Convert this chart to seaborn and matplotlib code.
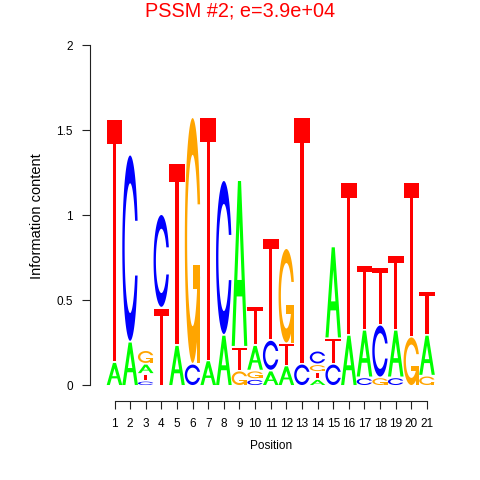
import numpy as np
import matplotlib
matplotlib.use("Agg")
import matplotlib.pyplot as plt
from matplotlib.patches import Polygon
import seaborn as sns

positions = list(range(1, 22))
height_A = [0.13, 0.25, 0.05, 0.00, 0.23, 0.00, 0.14, 0.29, 0.97, 0.14, 0.08,
            0.11, 0.00, 0.03, 0.53, 0.29, 0.27, 0.00, 0.27, 0.00, 0.23]
height_C = [0.00, 1.09, 0.02, 0.54, 0.00, 0.12, 0.00, 0.90, 0.00, 0.03, 0.17,
            0.00, 0.12, 0.07, 0.12, 0.00, 0.04, 0.30, 0.04, 0.00, 0.00]
height_G = [0.00, 0.00, 0.07, 0.00, 0.00, 1.44, 0.00, 0.00, 0.08, 0.04, 0.00,
            0.55, 0.00, 0.035, 0.00, 0.00, 0.00, 0.04, 0.00, 0.28, 0.05]
height_T = [1.42, 0.00, 0.03, 0.45, 1.06, 0.00, 1.42, 0.00, 0.13, 0.22, 0.59,
            0.12, 1.44, 0.032, 0.14, 0.89, 0.37, 0.33, 0.43, 0.90, 0.25]
y_ticks = [0, 0.5, 1, 1.5, 2]
y_tick_labels = ["0", "0.5", "1", "1.5", "2"]
title = "PSSM #2; e=3.9e+04"

base_colors = {"A": "#00FF00", "C": "#0000FF", "G": "#FFA500", "T": "#FF0000"}


def ring_shape():
    # open ring used for C and G (unit box)
    a1 = np.linspace(0.3 + np.pi / 2, np.pi, 100)
    a2 = np.linspace(np.pi, 1.5 * np.pi, 100)
    xl1, yl1 = 0.5 + 0.5 * np.sin(a1), 0.5 + 0.5 * np.cos(a1)
    xl2, yl2 = 0.5 + 0.5 * np.sin(a2), 0.5 + 0.5 * np.cos(a2)
    xl, yl = np.r_[xl1, xl2], np.r_[yl1, yl2]
    x = np.r_[xl, xl[::-1]]
    y = np.r_[yl, 1 - yl[::-1]]
    xi1, yi1 = 0.5 + 0.35 * np.sin(a1), 0.5 + 0.35 * np.cos(a1)
    keep = yi1 <= yl1.max()
    xi1, yi1 = xi1[keep], yi1[keep]
    yi1[0] = yl1.max()
    xi2, yi2 = 0.5 + 0.35 * np.sin(a2), 0.5 + 0.35 * np.cos(a2)
    xi, yi = np.r_[xi1, xi2], np.r_[yi1, yi2]
    x1 = np.r_[xi, xi[::-1]]
    y1 = np.r_[yi, 1 - yi[::-1]]
    x = np.r_[x, x1[::-1]]
    y = np.r_[y, y1[::-1]]
    return np.c_[x, y], xl1.max()


def letter_shapes(base):
    col = base_colors[base]
    if base == "A":
        outer = np.array([[0, 0], [4, 10], [6, 10], [10, 0], [8, 0], [6.8, 3],
                          [3.2, 3], [2, 0], [0, 0]]) * 0.1
        hole = np.array([[3.6, 4], [5, 7.5], [6.4, 4], [3.6, 4]]) * 0.1
        return [(outer, col), (hole, "white")]
    if base == "T":
        xy = np.array([[0, 10], [10, 10], [10, 9], [6, 9], [6, 0], [4, 0],
                       [4, 9], [0, 9]]) * 0.1
        return [(xy, col)]
    ring, r1 = ring_shape()
    if base == "C":
        return [(ring, col)]
    h1 = 0.4
    bar = np.array([[r1, h1], [0.5, h1], [0.5, h1 - 0.1], [r1 - 0.2, h1 - 0.1],
                    [r1 - 0.2, 0], [r1, 0], [r1, h1]])
    return [(ring, col), (bar, col)]


sns.set_theme(style="ticks")
plt.rcParams["font.family"] = ["Liberation Sans", "DejaVu Sans"]

fig = plt.figure(figsize=(4.8, 4.8), dpi=100)
ax = fig.add_axes([90 / 480, 79 / 480, 361.5 / 480, 369.6 / 480])

heights = {"A": height_A, "C": height_C, "G": height_G, "T": height_T}
for i, pos in enumerate(positions):
    col_h = sorted(((heights[b][i], b) for b in "ACGT"), key=lambda t: t[0])
    y0 = 0.0
    for ht, b in col_h:
        if ht <= 0:
            continue
        for shape, color in letter_shapes(b):
            xy = np.c_[pos - 0.5 + shape[:, 0], y0 + ht * shape[:, 1]]
            ax.add_patch(Polygon(xy, closed=True, facecolor=color,
                                 edgecolor="none", lw=0))
        y0 += ht + 0.01

ax.set_xlim(1 - 24.5 / 15.625, 21 + 24.5 / 15.625)
ax.set_ylim(-0.094, 2.08)
sns.despine(ax=ax)
ax.spines["left"].set_bounds(0, 2)
ax.spines["bottom"].set_bounds(1, 21)
for s in ("left", "bottom"):
    ax.spines[s].set_linewidth(0.8)
    ax.spines[s].set_color("#222222")

ax.set_xticks(positions)
ax.set_xticklabels([str(p) for p in positions])
ax.set_yticks(y_ticks)
ax.set_yticklabels(y_tick_labels)
ax.tick_params(axis="both", direction="out", length=6, width=0.8,
               color="#222222", labelsize=8.5, labelcolor="black")
ax.tick_params(axis="x", pad=6)
ax.tick_params(axis="y", pad=6.5)
ax.grid(False)

fig.text(270.8 / 480, 1 - 446 / 480, "Position", ha="center", va="center",
         fontsize=8.5, color="black")
fig.text(37 / 480, 1 - 216 / 480, "Information content", ha="center",
         va="center", rotation=90, fontsize=10.5, color="black")
fig.text(0.5, 1 - 11 / 480, title, ha="center", va="center", fontsize=14.3,
         color="red")

fig.savefig("out.png", dpi=100, facecolor="white")
